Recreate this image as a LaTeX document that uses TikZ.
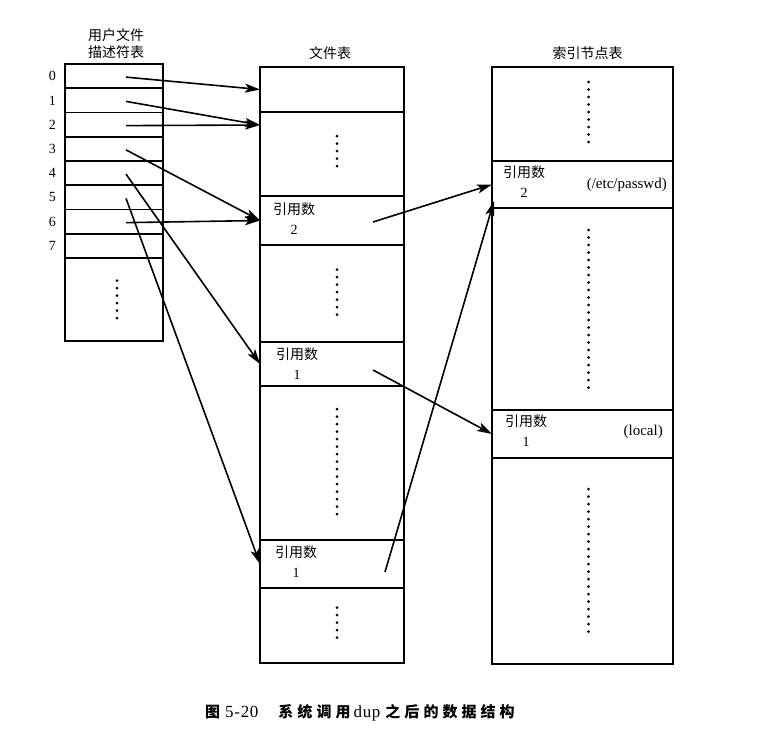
\documentclass[tikz,border=0pt]{standalone}
\usepackage{fontspec}
\setmainfont{Liberation Serif}
\newfontfamily\cjk{Noto Sans CJK SC}
\newfontfamily\cjkcap[LetterSpace=27]{Noto Sans CJK SC}
\newfontfamily\latcap[LetterSpace=4]{Liberation Serif}
\usetikzlibrary{positioning}
\usetikzlibrary{calc}
\usetikzlibrary{arrows.meta}

\tikzset{
  cell/.style={draw, rectangle, line width=1.8pt, outer sep=0pt, inner sep=0pt, anchor=north west},
  ucell/.style={cell, minimum width=98pt, minimum height=24.25pt},
  fcell/.style={cell, minimum width=144pt},
  icell/.style={cell, minimum width=181pt},
  refcnt/.style={align=center, inner sep=0pt, font=\fontsize{14}{20}\selectfont},
  ptr/.style={line width=1.6pt, -{Stealth[length=15pt, width=9pt, inset=3.5pt]}},
  dotline/.style={line width=3pt, line cap=round, dash pattern=on 0pt off 7.5pt},
}

\begin{document}
\begin{tikzpicture}[x=1pt, y=-1pt, font=\fontsize{14}{17}\selectfont]
    \useasboundingbox (0,0) rectangle (760,737);

    % user file descriptor table
    \node[ucell] (u0) at (65,64) {};
    \foreach \i in {1,...,7} {
        \pgfmathtruncatemacro\prev{\i-1}
        \node[ucell, below=0pt of u\prev] (u\i) {};
    }
    \node[ucell, minimum height=83pt, below=0pt of u7] (u8) {};
    \foreach \i in {0,...,7}
        \node[left=9pt of u\i.west, inner sep=0pt] (n\i) {\i};
    \node[above=5pt of u0.north, xshift=2pt, align=center, inner sep=0pt,
          font=\fontsize{14}{17}\selectfont\cjk] (utitle) {用户文件\\描述符表};

    % file table
    \node[fcell, minimum height=45pt] (f0) at (260,67) {};
    \foreach \i/\h in {1/84, 2/49, 3/97, 4/44, 5/154, 6/48, 7/75} {
        \pgfmathtruncatemacro\prev{\i-1}
        \node[fcell, minimum height=\h pt, below=0pt of f\prev] (f\i) {};
    }
    \node[above=7pt of f0.north, xshift=-2pt, inner sep=0pt,
          font=\fontsize{14}{17}\selectfont\cjk] (ftitle) {文件表};

    % inode table
    \node[icell, minimum height=94pt] (i0) at (492,67) {};
    \foreach \i/\h in {1/47, 2/202, 3/48, 4/206} {
        \pgfmathtruncatemacro\prev{\i-1}
        \node[icell, minimum height=\h pt, below=0pt of i\prev] (i\i) {};
    }
    \node[above=7pt of i0.north, xshift=5pt, inner sep=0pt,
          font=\fontsize{14}{17}\selectfont\cjk] (ititle) {索引节点表};

    % reference counts
    \node[refcnt, below right=7pt and 13pt of f2.north west] (f2cnt) {{\cjk 引用数}\\2};
    \node[refcnt, below right=6pt and 16pt of f4.north west] (f4cnt) {{\cjk 引用数}\\1};
    \node[refcnt, below right=6pt and 15pt of f6.north west] (f6cnt) {{\cjk 引用数}\\1};
    \node[refcnt, below right=5pt and 11pt of i1.north west] (i1cnt) {{\cjk 引用数}\\2};
    \node[refcnt, below right=5pt and 13pt of i3.north west] (i3cnt) {{\cjk 引用数}\\1};
    \node[left=6pt of i1.east, inner sep=0pt, font=\fontsize{15}{17}\selectfont] (passwd) {(/etc/passwd)};
    \node[left=10pt of i3.east, yshift=2pt, inner sep=0pt, font=\fontsize{15}{17}\selectfont] (local) {(local)};

    % dots
    \foreach \n/\h/\dx in {u8/19/3, f1/18/5, f3/24/5, f5/54/5, f7/18/5, i0/32/6, i2/79/6, i4/72/6}
        \draw[dotline] ($(\n.center)+(\dx,-\h)$) -- ($(\n.center)+(\dx,\h)$);

    % pointer ends
    \foreach \i in {0,...,6}
        \coordinate (s\i) at ($(u\i.center)+(12,1)$);
    \coordinate (f1in) at ($(f1.north west)+(0,13)$);
    \coordinate (f2out) at ($(f2.center)+(41,1.5)$);
    \coordinate (f4out) at ($(f4.center)+(41,6)$);
    \coordinate (f6out) at ($(f6.center)+(53,8)$);
    \coordinate (i1low) at ($(i1.south west)+(2,-7)$);

    \draw[ptr] (s0) -- (f0.west);
    \draw[ptr] (s1) -- (f1in);
    \draw[ptr] (s2) -- (f1in);
    \draw[ptr] (s3) -- (f2.west);
    \draw[ptr] (s6) -- (f2.west);
    \draw[ptr] (s4) -- (f4.west);
    \draw[ptr] (s5) -- (f6.west);
    \draw[ptr] (f2out) -- (i1.west);
    \draw[ptr] (f4out) -- (i3.west);
    \draw[ptr] (f6out) -- (i1low);

    \node[font=\fontsize{15}{17}\selectfont] (cap) at (360,713)
        {{\cjkcap\bfseries 图}\hspace{5pt}{\latcap\fontsize{17}{17}\selectfont 5-20}\hspace{20pt}{\cjkcap\bfseries 系统调用}\hspace{3pt}{\latcap\fontsize{17}{17}\selectfont dup}\hspace{5pt}{\cjkcap\bfseries 之后的数据结构}};
\end{tikzpicture}
\end{document}
